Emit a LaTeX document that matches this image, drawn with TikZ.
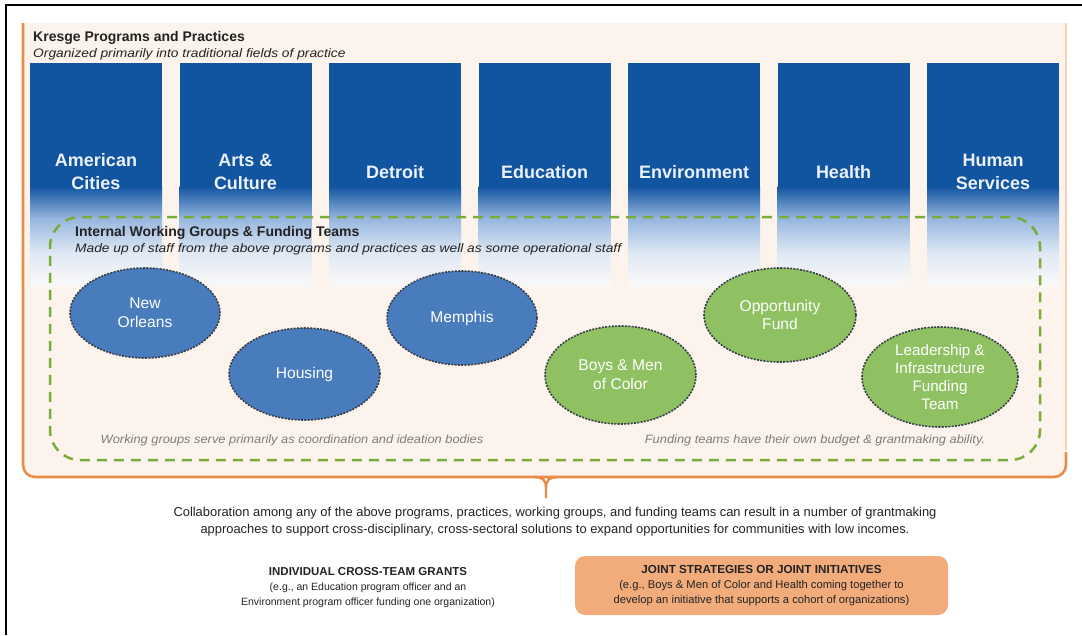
\documentclass[tikz,border=0pt]{standalone}
\usepackage{fontspec}
\setmainfont{Liberation Sans}
\newfontfamily\wideface[FakeStretch=1.12]{Liberation Sans}
\newfontfamily\notefacefam[FakeStretch=1.07]{Liberation Sans}
\usetikzlibrary{shapes.geometric}

\definecolor{colblue}{RGB}{17,84,160}
\definecolor{fadeblue}{RGB}{150,182,222}
\definecolor{fadepale}{RGB}{222,232,244}
\definecolor{fadeend}{RGB}{251,249,247}
\definecolor{panelfill}{RGB}{252,244,236}
\definecolor{paneledge}{RGB}{232,140,72}
\definecolor{teamgreen}{RGB}{122,172,58}
\definecolor{ellblue}{RGB}{72,124,188}
\definecolor{ellgreen}{RGB}{143,193,98}
\definecolor{ellline}{RGB}{55,62,72}
\definecolor{notegray}{RGB}{125,125,125}
\definecolor{jointfill}{RGB}{242,172,124}
\definecolor{textdark}{RGB}{35,35,35}
\definecolor{labelwhite}{RGB}{235,242,252}

\begin{document}
\begin{tikzpicture}[x=1pt,y=-1pt,
  collabel/.style={text=labelwhite, font=\bfseries\fontsize{18}{23}\selectfont, align=center, inner sep=0pt},
  ell/.style={ellipse, draw=ellline, line width=1.6pt, dash pattern=on 2pt off 1.3pt,
              inner sep=0pt, text=white, font=\fontsize{15.6}{18.8}\selectfont, align=center},
  blueell/.style={ell, fill=ellblue},
  greenell/.style={ell, fill=ellgreen},
  heading/.style={font=\bfseries\fontsize{14}{16}\selectfont, text=textdark, inner sep=0pt, anchor=west},
  subheading/.style={font=\wideface\itshape\fontsize{12.3}{15}\selectfont, text=textdark, inner sep=0pt, anchor=west},
  note/.style={font=\notefacefam\itshape\fontsize{12}{15}\selectfont, text=notegray, inner sep=0pt},
  bodytext/.style={font=\fontsize{12.9}{17}\selectfont, text=textdark, align=center, inner sep=0pt},
  grantblock/.style={font=\fontsize{10.5}{15}\selectfont, text=textdark, align=center, inner sep=0pt}
]
\useasboundingbox (0,0) rectangle (1082,635);
\fill[white] (0,0) rectangle (1082,635);

% outer frame lines
\draw[black, line width=1.6pt] (6,635) -- (6,5) -- (1082,5);

% programs and practices panel
\fill[panelfill] (23,23) {[rounded corners=12pt] -- (23,477) -- (1066,477)} -- (1066,23) -- cycle;
\draw[paneledge!40, line width=1.5pt] (1066,450) -- (1066,23);
\draw[paneledge, line width=2.6pt, rounded corners=12pt] (23,23) -- (23,477) -- (1066,477) -- (1066,452);
% brace tip under the panel
\draw[paneledge, line width=2.4pt] (534,477) .. controls (543,477) and (546,480) .. (546,488) -- (546,498);
\draw[paneledge, line width=2.4pt] (558,477) .. controls (549,477) and (546,480) .. (546,488);

\node[heading] (kresge) at (33,38) {Kresge Programs and Practices};
\node[subheading] (kresgesub) at (33,54) {Organized primarily into traditional fields of practice};

% program columns: solid top fading out towards the bottom
\foreach \i in {0,...,6}{
  \pgfmathsetmacro{\xl}{30+149.5*\i}
  \pgfmathsetmacro{\xr}{\xl+132}
  \fill[colblue] (\xl,63) rectangle (\xr,186.5);
  \shade[top color=colblue, bottom color=fadeblue] (\xl,186) rectangle (\xr,218.5);
  \shade[top color=fadeblue, bottom color=fadepale] (\xl,218) rectangle (\xr,252.5);
  \shade[top color=fadepale, bottom color=fadeend] (\xl,252) rectangle (\xr,286);
}
\node[collabel] (amcities) at (96,171.5) {American\\Cities};
\node[collabel] (arts) at (245.5,171.5) {Arts \&\\Culture};
\node[collabel] (detroit) at (395,172) {Detroit};
\node[collabel] (education) at (544.5,172) {Education};
\node[collabel] (environment) at (694,172) {Environment};
\node[collabel] (health) at (843.5,172) {Health};
\node[collabel] (humserv) at (993,171.5) {Human\\Services};

% internal working groups and funding teams
\node[draw=teamgreen, line width=2.5pt, dash pattern=on 10pt off 7pt, rounded corners=30pt,
      minimum width=990pt, minimum height=243pt, inner sep=0pt] (teams) at (545,338.5) {};
\node[heading] (teamstitle) at (75,233) {Internal Working Groups \& Funding Teams};
\node[subheading] (teamssub) at (75,249) {Made up of staff from the above programs and practices as well as some operational staff};

\node[blueell, minimum width=150pt, minimum height=90pt] (neworleans) at (145,313) {New\\Orleans};
\node[blueell, minimum width=151pt, minimum height=92pt] (housing) at (304.5,374) {Housing};
\node[blueell, minimum width=150pt, minimum height=94pt] (memphis) at (462,318) {Memphis};
\node[greenell, minimum width=151pt, minimum height=98pt] (boysmen) at (620.5,375) {Boys \& Men\\of Color};
\node[greenell, minimum width=152pt, minimum height=94pt] (opportunity) at (780,315) {Opportunity\\Fund};
\node[greenell, minimum width=156pt, minimum height=100pt, font=\fontsize{15.2}{18}\selectfont] (leadership) at (940,377) {Leadership \&\\Infrastructure\\Funding\\Team};

\node[note] (wgnote) at (292,440) {Working groups serve primarily as coordination and ideation bodies};
\node[note] (ftnote) at (815,440) {Funding teams have their own budget \& grantmaking ability.};

% outcomes of collaboration
\node[bodytext] (collab) at (555,521.5) {Collaboration among any of the above programs, practices, working groups, and funding teams can result in a number of grantmaking\\approaches to support cross-disciplinary, cross-sectoral solutions to expand opportunities for communities with low incomes.};

\node[grantblock] (crossteam) at (368,587.5) {{\bfseries\fontsize{11.5}{15}\selectfont INDIVIDUAL CROSS-TEAM GRANTS}\\(e.g., an Education program officer and an\\Environment program officer funding one organization)};

\node[fill=jointfill, rounded corners=10pt, minimum width=373pt, minimum height=59pt, inner sep=0pt] (jointbox) at (761.5,585.5) {};
\node[grantblock, font=\fontsize{11.2}{15}\selectfont] (joint) at (jointbox.center) {{\bfseries\fontsize{11.7}{15}\selectfont JOINT STRATEGIES OR JOINT INITIATIVES}\\(e.g., Boys \& Men of Color and Health coming together to\\develop an initiative that supports a cohort of organizations)};
\end{tikzpicture}
\end{document}
